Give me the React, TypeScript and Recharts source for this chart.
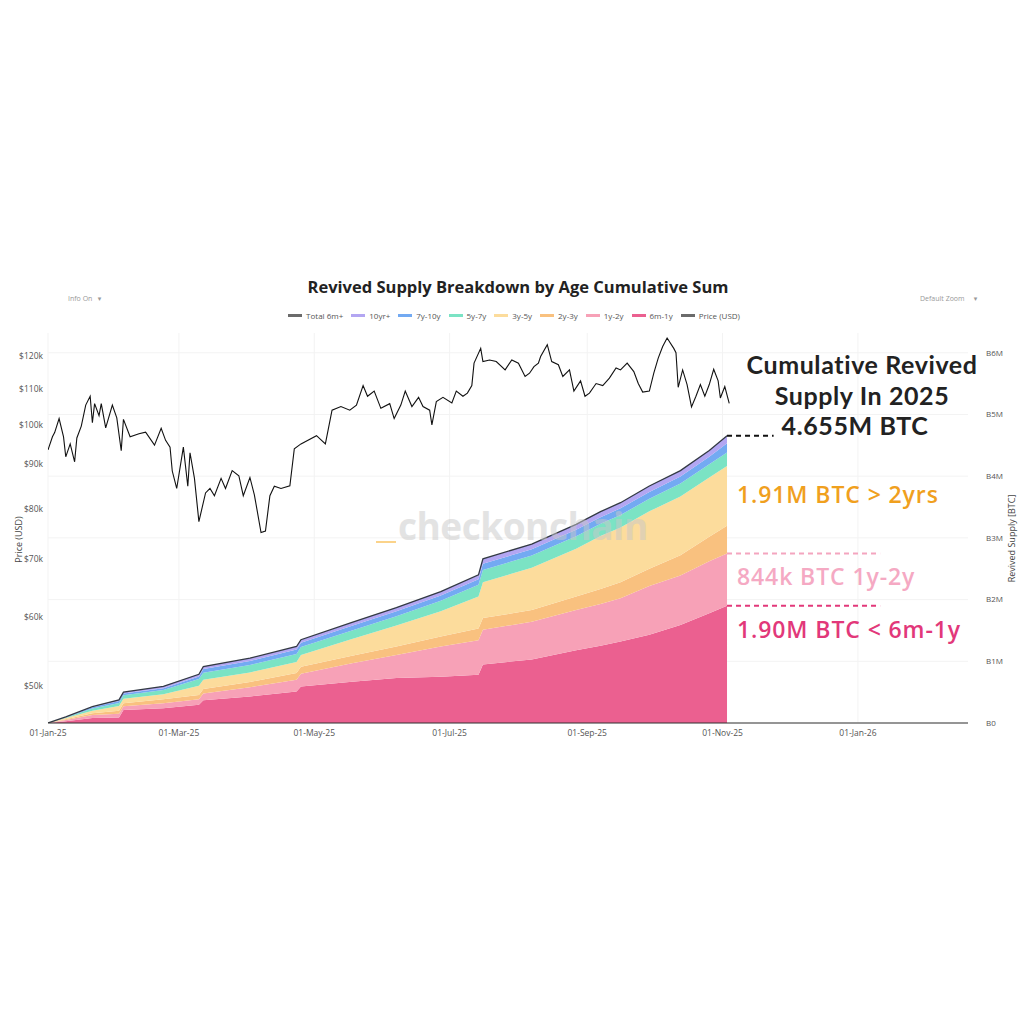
import React from "react";
import {
  Area,
  CartesianGrid,
  ComposedChart,
  Line,
  ReferenceLine,
  XAxis,
  YAxis,
} from "recharts";

// days since 01-Jan-25
const supplyDays = [0, 8, 20, 32, 34, 52, 68, 70, 91, 112, 114, 137, 157, 177, 194, 196, 218, 238, 249, 258, 271, 285, 298, 306];
// cumulative revived supply per cohort, millions of BTC
const sixMonthToOneYear = [0, 0.03, 0.08, 0.09, 0.21, 0.24, 0.295, 0.37, 0.43, 0.51, 0.59, 0.67, 0.73, 0.75, 0.78, 0.95, 1.03, 1.18, 1.25, 1.32, 1.43, 1.59, 1.78, 1.9];
const oneToTwoYears = [0, 0.02, 0.05, 0.06, 0.06, 0.08, 0.09, 0.11, 0.15, 0.19, 0.21, 0.3, 0.37, 0.49, 0.56, 0.56, 0.61, 0.65, 0.68, 0.7, 0.79, 0.8, 0.84, 0.845];
const twoToThreeYears = [0, 0.01, 0.027, 0.05, 0.05, 0.065, 0.07, 0.07, 0.085, 0.11, 0.11, 0.12, 0.14, 0.16, 0.19, 0.19, 0.19, 0.22, 0.24, 0.26, 0.28, 0.33, 0.4, 0.45];
const threeToFiveYears = [0, 0.02, 0.043, 0.075, 0.075, 0.08, 0.15, 0.15, 0.155, 0.18, 0.19, 0.27, 0.34, 0.41, 0.52, 0.58, 0.685, 0.775, 0.86, 0.89, 0.93, 0.95, 0.96, 0.97];
const fiveToSevenYears = [0, 0.01, 0.035, 0.05, 0.055, 0.07, 0.11, 0.115, 0.12, 0.13, 0.13, 0.14, 0.15, 0.17, 0.19, 0.2, 0.2, 0.2, 0.2, 0.2, 0.205, 0.21, 0.215, 0.22];
const sevenToTenYears = [0, 0.005, 0.02, 0.03, 0.03, 0.03, 0.04, 0.06, 0.065, 0.07, 0.07, 0.075, 0.08, 0.085, 0.09, 0.1, 0.1, 0.105, 0.105, 0.11, 0.11, 0.115, 0.12, 0.15];
const tenYearsPlus = [0, 0.005, 0.01, 0.02, 0.02, 0.03, 0.035, 0.04, 0.045, 0.05, 0.05, 0.055, 0.06, 0.065, 0.07, 0.08, 0.085, 0.09, 0.09, 0.09, 0.095, 0.095, 0.1, 0.12];

// BTC price, thousands of USD
const priceDays = [0, 2, 3, 5, 7, 8, 10, 12, 13, 15, 17, 19, 20, 21, 23, 24, 26, 29, 31, 33, 34, 37, 41, 44, 48, 51, 53, 55, 56, 58, 61, 63, 64, 66, 68, 71, 73, 75, 78, 80, 83, 86, 88, 91, 93, 96, 98, 100, 102, 105, 109, 111, 114, 121, 125, 128, 132, 136, 139, 142, 144, 147, 150, 154, 156, 159, 161, 164, 167, 169, 172, 173, 175, 178, 182, 184, 187, 189, 191, 192, 195, 196, 199, 202, 206, 209, 212, 215, 217, 219, 221, 222, 225, 227, 230, 232, 235, 237, 240, 242, 244, 247, 250, 253, 256, 258, 261, 264, 266, 268, 271, 273, 275, 277, 279, 282, 283, 284, 286, 288, 290, 292, 294, 296, 298, 300, 302, 303, 305, 307];
const priceUsdK = [93.5, 96.8, 97.9, 101.6, 96.8, 91.8, 95.0, 90.6, 96.5, 99.6, 105.3, 107.8, 100.5, 105.7, 102.4, 105.7, 99.1, 105.3, 101.8, 93.3, 101.4, 96.8, 97.6, 98.0, 94.7, 99.0, 95.9, 94.2, 88.4, 84.4, 94.2, 84.9, 92.8, 86.7, 77.3, 83.4, 84.4, 82.8, 86.7, 84.4, 88.5, 87.3, 82.8, 86.9, 83.0, 75.1, 75.4, 82.8, 84.9, 84.4, 85.0, 93.8, 95.0, 97.1, 95.0, 103.9, 104.9, 103.9, 105.3, 110.9, 107.8, 109.3, 104.4, 105.7, 101.6, 105.3, 109.3, 104.9, 107.5, 104.9, 103.9, 99.9, 106.3, 107.5, 105.9, 109.3, 107.8, 108.7, 110.9, 117.7, 122.4, 118.2, 118.7, 118.2, 115.6, 118.7, 117.7, 113.6, 114.6, 116.6, 117.7, 119.8, 123.6, 118.2, 117.2, 113.6, 115.6, 109.3, 112.3, 107.8, 108.7, 111.5, 110.9, 113.1, 116.2, 115.6, 117.7, 115.1, 111.5, 109.0, 109.3, 114.6, 119.3, 123.0, 125.8, 122.4, 121.0, 110.4, 115.6, 111.2, 104.8, 107.8, 111.2, 107.8, 111.2, 115.8, 112.3, 107.3, 110.6, 105.8];

const dateTicks = [0, 59, 120, 181, 243, 304, 365];
const dateLabels = ["01-Jan-25", "01-Mar-25", "01-May-25", "01-Jul-25", "01-Sep-25", "01-Nov-25", "01-Jan-26"];
const priceTicks = [50000, 60000, 70000, 80000, 90000, 100000, 110000, 120000];
const supplyTicks = [0, 1, 2, 3, 4, 5, 6];

const headlineLines = ["Cumulative Revived", "Supply In 2025", "4.655M BTC"];

const legendItems = [
  { name: "Total 6m+", color: "#6b6b6b" },
  { name: "10yr+", color: "#b3a6f2" },
  { name: "7y-10y", color: "#73aaf2" },
  { name: "5y-7y", color: "#7be3c4" },
  { name: "3y-5y", color: "#fcdc9c" },
  { name: "2y-3y", color: "#f9c17f" },
  { name: "1y-2y", color: "#f7a1b7" },
  { name: "6m-1y", color: "#eb6090" },
  { name: "Price (USD)", color: "#6b6b6b" },
];

const supplyData = supplyDays.map((day, i) => ({
  day,
  c6m1y: sixMonthToOneYear[i],
  c1y2y: oneToTwoYears[i],
  c2y3y: twoToThreeYears[i],
  c3y5y: threeToFiveYears[i],
  c5y7y: fiveToSevenYears[i],
  c7y10y: sevenToTenYears[i],
  c10y: tenYearsPlus[i],
  total:
    sixMonthToOneYear[i] + oneToTwoYears[i] + twoToThreeYears[i] + threeToFiveYears[i] +
    fiveToSevenYears[i] + sevenToTenYears[i] + tenYearsPlus[i],
}));

const priceData = priceDays.map((day, i) => ({ day, price: priceUsdK[i] * 1000 }));

const endDay = supplyDays[supplyDays.length - 1];
const endTotal = supplyData[supplyData.length - 1].total;
const endOneTwo = sixMonthToOneYear[sixMonthToOneYear.length - 1] + oneToTwoYears[oneToTwoYears.length - 1];
const endSixMonth = sixMonthToOneYear[sixMonthToOneYear.length - 1];

const FONT = "'Open Sans', 'DejaVu Sans', sans-serif";
const tickStyle = { fill: "#555", fontSize: 8.5, fontFamily: FONT };

const abs = (style: React.CSSProperties): React.CSSProperties => ({
  position: "absolute",
  fontFamily: FONT,
  whiteSpace: "nowrap",
  ...style,
});

export default function App() {
  return (
    <div style={{ position: "absolute", left: 0, top: 0, width: 1024, height: 1024, background: "#fff", overflow: "hidden" }}>
      <div style={abs({ left: 0, width: 1024, top: 275, textAlign: "center", fontSize: 16.5, fontWeight: 700, color: "#222", paddingLeft: 6 })}>
        Revived Supply Breakdown by Age Cumulative Sum
      </div>
      <div style={abs({ left: 68, top: 294, fontSize: 7, color: "#999" })}>Info On &nbsp;&nbsp;▾</div>
      <div style={abs({ left: 920, top: 294, fontSize: 7, color: "#999" })}>Default Zoom &nbsp;&nbsp;&nbsp;&nbsp;▾</div>
      <div style={abs({ left: 0, width: 1024, top: 310, display: "flex", justifyContent: "center", paddingLeft: 6, fontSize: 8, color: "#555" })}>
        {legendItems.map((it) => (
          <span key={it.name} style={{ display: "inline-flex", alignItems: "center", marginRight: 8 }}>
            <span style={{ display: "inline-block", width: 14, height: 2.5, background: it.color, marginRight: 4 }} />
            {it.name}
          </span>
        ))}
      </div>

      <div style={{ position: "absolute", left: 0, top: 0 }}>
        <ComposedChart
          width={1024}
          height={1024}
          data={supplyData}
          margin={{ top: 333, right: 8, bottom: 271, left: 8 }}
        >
          <CartesianGrid yAxisId="right" stroke="#f3f3f3" horizontalValues={supplyTicks} verticalValues={dateTicks} />
          <XAxis
            dataKey="day"
            type="number"
            domain={[0, 414.6]}
            ticks={dateTicks}
            tickFormatter={(v: number) => dateLabels[dateTicks.indexOf(v)] ?? ""}
            tick={tickStyle}
            tickLine={false}
            tickSize={0}
            tickMargin={7}
            axisLine={{ stroke: "#333", strokeWidth: 1.2 }}
            height={30}
            allowDataOverflow
          />
          <YAxis
            yAxisId="left"
            orientation="left"
            scale="log"
            domain={[45300, 127500]}
            ticks={priceTicks}
            tickFormatter={(v: number) => `$${Math.round(v / 1000)}k`}
            tick={tickStyle}
            tickLine={false}
            tickSize={0}
            tickMargin={5}
            axisLine={false}
            width={40}
            allowDataOverflow
          />
          <YAxis
            yAxisId="right"
            orientation="right"
            domain={[0, 6.32]}
            ticks={supplyTicks}
            tickFormatter={(v: number) => (v === 0 ? "B0" : `B${v}M`)}
            tick={{ ...tickStyle, fontSize: 8 }}
            tickLine={false}
            tickSize={0}
            tickMargin={18}
            axisLine={false}
            width={48}
            allowDataOverflow
          />
          <Area yAxisId="right" type="linear" dataKey="c6m1y" stackId="s" fill="#eb6090" stroke="none" fillOpacity={1} isAnimationActive={false} />
          <Area yAxisId="right" type="linear" dataKey="c1y2y" stackId="s" fill="#f7a1b7" stroke="none" fillOpacity={1} isAnimationActive={false} />
          <Area yAxisId="right" type="linear" dataKey="c2y3y" stackId="s" fill="#f9c17f" stroke="none" fillOpacity={1} isAnimationActive={false} />
          <Area yAxisId="right" type="linear" dataKey="c3y5y" stackId="s" fill="#fcdc9c" stroke="none" fillOpacity={1} isAnimationActive={false} />
          <Area yAxisId="right" type="linear" dataKey="c5y7y" stackId="s" fill="#7be3c4" stroke="none" fillOpacity={1} isAnimationActive={false} />
          <Area yAxisId="right" type="linear" dataKey="c7y10y" stackId="s" fill="#73aaf2" stroke="none" fillOpacity={1} isAnimationActive={false} />
          <Area yAxisId="right" type="linear" dataKey="c10y" stackId="s" fill="#b3a6f2" stroke="none" fillOpacity={1} isAnimationActive={false} />
          <Line yAxisId="right" type="linear" dataKey="total" stroke="#333a44" strokeWidth={1.3} dot={false} isAnimationActive={false} />
          <Line yAxisId="left" data={priceData} type="linear" dataKey="price" stroke="#111" strokeWidth={1.1} dot={false} isAnimationActive={false} />

          {/* annotation leaders */}
          <ReferenceLine yAxisId="right" segment={[{ x: endDay, y: endTotal }, { x: 327, y: endTotal }]} stroke="#111" strokeWidth={2} strokeDasharray="5 4" />
          <ReferenceLine yAxisId="right" segment={[{ x: endDay, y: endOneTwo }, { x: 375, y: endOneTwo }]} stroke="#f4a5bf" strokeWidth={2} strokeDasharray="5 4" />
          <ReferenceLine yAxisId="right" segment={[{ x: endDay, y: endSixMonth }, { x: 375, y: endSixMonth }]} stroke="#e2387a" strokeWidth={2} strokeDasharray="5 4" />
        </ComposedChart>
      </div>

      <div style={abs({ left: 398, top: 500, fontSize: 37, fontWeight: 700, color: "#c8c8c8", opacity: 0.5, letterSpacing: -0.5 })}>checkonchain</div>
      <div style={abs({ left: 376, top: 541, width: 20, height: 2, background: "#fbd38a" })} />

      <div style={abs({ left: -5, top: 533, fontSize: 9, color: "#444", transform: "rotate(-90deg)", transformOrigin: "center" })}>
        Price (USD)
      </div>
      <div style={abs({ left: 968, top: 532, fontSize: 9, color: "#444", transform: "rotate(-90deg)", transformOrigin: "center" })}>
        Revived Supply [BTC]
      </div>

      {headlineLines.map((t, i) => (
        <div
          key={t}
          style={abs({
            left: 734,
            width: 256,
            top: 352 + i * 30.5,
            textAlign: "center",
            fontFamily: "Lato, 'Open Sans', sans-serif",
            fontSize: 25,
            fontWeight: 700,
            letterSpacing: 0.6,
            color: "#222",
            lineHeight: 1,
            paddingRight: i === 2 ? 14 : 0,
            boxSizing: "border-box",
          })}
        >
          {t}
        </div>
      ))}
      <div style={abs({ left: 737, top: 478, fontSize: 23, fontWeight: 600, letterSpacing: 0.9, color: "#f0a01e" })}>1.91M BTC &gt; 2yrs</div>
      <div style={abs({ left: 737, top: 560, fontSize: 23, fontWeight: 600, letterSpacing: 0.9, color: "#f5a9c3" })}>844k BTC 1y-2y</div>
      <div style={abs({ left: 737, top: 613, fontSize: 23, fontWeight: 600, letterSpacing: 0.9, color: "#e2387a" })}>1.90M BTC &lt; 6m-1y</div>
    </div>
  );
}
